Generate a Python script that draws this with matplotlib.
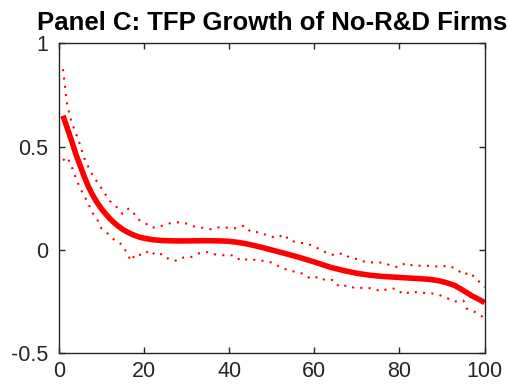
import matplotlib
matplotlib.use("Agg")
import matplotlib.pyplot as plt

plt.rcParams['font.family'] = ['Liberation Sans', 'DejaVu Sans']
plt.rcParams['axes.unicode_minus'] = False

# fitted line
fit_x = [1, 2, 3, 4, 5, 6, 7, 8, 9, 10, 11, 12, 13, 14, 15, 16, 17, 18, 19, 20,
         22, 24, 27, 30, 35, 38, 40, 42, 44, 46, 48, 50, 53, 56, 60, 64, 67, 70,
         73, 76, 80, 84, 87, 89, 91, 93, 95, 97, 99, 100]
fit_y = [0.65, 0.59, 0.53, 0.465, 0.41, 0.355, 0.305, 0.265, 0.23, 0.20, 0.175,
         0.152, 0.132, 0.115, 0.10, 0.088, 0.078, 0.069, 0.062, 0.057, 0.05, 0.046,
         0.044, 0.044, 0.045, 0.044, 0.042, 0.037, 0.03, 0.021, 0.011, 0.0, -0.016,
         -0.033, -0.058, -0.085, -0.1, -0.113, -0.122, -0.128, -0.133, -0.138,
         -0.142, -0.148, -0.158, -0.172, -0.196, -0.222, -0.243, -0.255]

# upper confidence band
up_x = [1, 2, 3, 4, 5, 6, 7, 8, 9, 10, 11, 12, 13, 14, 15, 16.4, 17.4, 18.5, 20.3,
        21.7, 23.4, 24.6, 26.4, 28.3, 29.8, 31.6, 33.6, 35.8, 37.7, 39.8, 41.7, 43.6,
        45.1, 47.2, 49.1, 51.2, 52.9, 54.2, 56.2, 58.1, 60, 61.5, 63.1, 64.9, 66.7,
        68.3, 70.3, 72.2, 74.1, 76.1, 77.8, 79.7, 81.4, 83.2, 85.3, 87.3, 89.4, 91.5,
        93.4, 95, 96.4, 97.9, 100]
up_y = [0.875, 0.70, 0.62, 0.565, 0.51, 0.445, 0.40, 0.36, 0.33, 0.30, 0.268, 0.237,
        0.22, 0.20, 0.174, 0.20, 0.186, 0.149, 0.131, 0.108, 0.111, 0.12, 0.131, 0.134,
        0.129, 0.115, 0.108, 0.10, 0.11, 0.108, 0.105, 0.118, 0.087, 0.086, 0.069,
        0.058, 0.076, 0.045, 0.037, 0.031, 0.018, 0.0, -0.016, -0.026, -0.015, -0.037,
        -0.045, -0.06, -0.06, -0.061, -0.074, -0.084, -0.063, -0.076, -0.076, -0.077,
        -0.081, -0.076, -0.092, -0.121, -0.108, -0.137, -0.18]

# lower confidence band
lo_x = [1, 2, 3, 4, 5, 6, 7, 8, 9, 10, 11, 12, 13, 15, 16, 17, 18, 19.8, 21.3, 22.9,
        24.3, 25.9, 27.8, 29.3, 31.1, 33.1, 35.1, 37.1, 39.2, 41.2, 42.8, 44.7, 46.5,
        48.6, 50.7, 52.3, 53.7, 55.5, 57.4, 59.2, 61.1, 62.6, 64.5, 65.9, 67.8, 69.7,
        71.8, 73.6, 75.7, 77.4, 79.3, 80.9, 82.9, 84.8, 86.9, 89, 91, 92.8, 95, 95.8,
        97.7, 100]
lo_y = [0.434, 0.45, 0.405, 0.35, 0.30, 0.262, 0.222, 0.178, 0.15, 0.105, 0.088, 0.07,
        0.05, 0.024, -0.016, -0.053, -0.019, -0.026, -0.001, -0.027, -0.019, -0.045,
        -0.053, -0.036, -0.034, -0.015, -0.01, -0.024, -0.026, -0.026, -0.053, -0.042,
        -0.05, -0.053, -0.065, -0.089, -0.095, -0.106, -0.115, -0.14, -0.129, -0.147,
        -0.145, -0.179, -0.171, -0.186, -0.182, -0.186, -0.2, -0.187, -0.187, -0.215,
        -0.2, -0.208, -0.208, -0.215, -0.231, -0.25, -0.245, -0.284, -0.30, -0.33]

fig = plt.figure(figsize=(5.08, 3.87), dpi=100)
ax = fig.add_axes([0.1156, 0.0871, 0.8385, 0.8008])

ax.plot(fit_x, fit_y, color='red', linewidth=4, solid_capstyle='butt',
        solid_joinstyle='round')
ax.plot(up_x, up_y, color='red', linewidth=1.5, dashes=(1, 3))
ax.plot(lo_x, lo_y, color='red', linewidth=1.5, dashes=(1, 3))

ax.set_xlim(0, 100)
ax.set_ylim(-0.5, 1)
ax.set_xticks([0, 20, 40, 60, 80, 100])
ax.set_yticks([-0.5, 0, 0.5, 1])
ax.set_yticklabels(['-0.5', '0', '0.5', '1'])

for s in ax.spines.values():
    s.set_color('#262626')
    s.set_linewidth(1.0)
ax.tick_params(direction='in', length=4, width=1.0, color='#262626',
               labelcolor='#262626', labelsize=15.5, top=True, right=True)
ax.tick_params(axis='y', pad=7.5)
ax.tick_params(axis='x', pad=5.5)

ax.set_title('Panel C: TFP Growth of No-R&D Firms', fontsize=18.5,
             fontweight='bold', pad=9.5)

fig.savefig('out.png', dpi=100)
